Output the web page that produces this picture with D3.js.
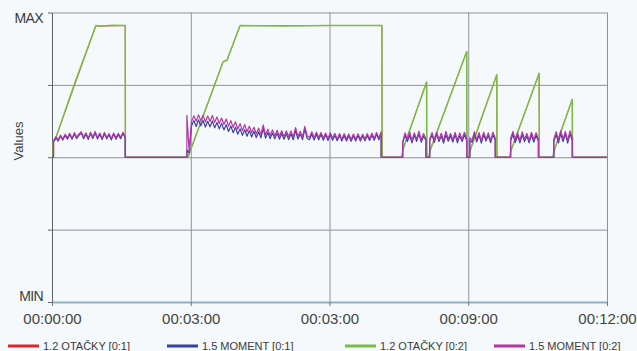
<!DOCTYPE html>
<html>
<head>
<meta charset="utf-8">
<script src="https://cdn.jsdelivr.net/npm/d3@7"></script>
<style>
  body { margin: 0; background: #f5f9fb; }
  svg { display: block; font-family: "Liberation Sans", Arial, sans-serif; }
</style>
</head>
<body>
<div id="chart-area"></div>
<script>
// axis ticks (seconds / value units)
const xTickValues = [0, 180, 360, 540, 720];
const xTickLabels = ['00:00:00', '00:03:00', '00:03:00', '00:09:00', '00:12:00'];
const yTickValues = [-100, -50, 0, 50, 100];
const yTickLabels = ['MIN', '', '', '', 'MAX'];

const seriesNames = ['1.2 OTAČKY [0:1]', '1.5 MOMENT [0:1]', '1.2 OTAČKY [0:2]', '1.5 MOMENT [0:2]'];
const seriesColors = ['#e3252b', '#3b3f9f', '#7cbc45', '#b535a5'];

// OTAČKY - speed ramps [t, value]
const otacky1 = [[0, 0], [1.3, 0], [1.5, 11], [4, 12], [57, 91], [60, 90.5], [95, 91], [95.2, 0],
    [176, 0], [177, 1], [222, 66], [227, 67], [244, 91], [428, 91], [428.2, 0],
    [454, 0], [455, 5], [486, 52], [486.2, 0], [489, 0], [490, 4], [538, 73], [538.2, 0],
    [541, 0], [542, 4], [577, 57], [577.2, 0], [594, 0], [595, 4], [632, 58], [632.2, 0],
    [650, 0], [651, 4], [675, 40], [675.2, 0], [720, 0]];
const otacky2 = [[0, 0], [1.3, 0], [1.5, 11], [4, 12], [30, 52], [57, 91], [62, 90.6], [80, 91.2], [95, 91], [95.2, 0],
    [176, 0], [177, 1], [222, 66], [227, 67], [244, 91], [300, 90.6], [360, 91.1], [428, 91], [428.2, 0],
    [454, 0], [455, 5], [486, 52], [486.2, 0], [489, 0], [490, 4], [538, 73], [538.2, 0],
    [541, 0], [542, 4], [577, 57], [577.2, 0], [594, 0], [595, 4], [632, 58], [632.2, 0],
    [650, 0], [651, 4], [675, 40], [675.2, 0], [720, 0]];

// MOMENT - sampled every 3 s inside each run
const momentStep = 3;
const momentStarts = [2, 175, 455, 490, 542, 595, 651];

const moment1 = [
    [10.8, 13.5, 11.2, 14.6, 11.9, 15.0, 12.5, 15.8, 12.4, 16.1, 12.9, 15.2, 16.7, 12.8, 15.9, 12.3,
     16.4, 12.9, 16.8, 12.6, 15.8, 12.2, 16.2, 12.7, 15.5, 12.0, 15.9, 12.5, 15.6, 12.8, 16.3, 13.6],
    [5, 3, 21.6, 25.3, 21.2, 25.8, 21.7, 25.4, 20.9, 24.8, 21.0, 25.1, 20.3, 24.0, 19.6, 23.4, 18.9,
     22.5, 17.8, 21.6, 17.0, 20.7, 15.9, 19.6, 15.1, 19.0, 14.5, 18.4, 14.0, 17.9, 13.6, 17.5, 13.4,
     19.9, 13.2, 17.1, 12.9, 16.8, 12.7, 16.6, 12.5, 16.4, 12.4, 16.3, 12.3, 16.2, 12.1, 18.6, 12.6,
     16.0, 12.2, 19.4, 13.0, 12.1, 16.1, 11.9, 15.8, 12.0, 15.7, 11.8, 15.5, 11.6, 15.6, 11.8, 15.2,
     11.4, 15.1, 11.2, 15.0, 11.3, 14.8, 11.1, 14.8, 11.3, 15.0, 11.2, 14.7, 11.4, 15.1, 11.6, 15.4,
     11.8, 15.9, 12.1, 16.3],
    [10.1, 15.2, 10.8, 15.0, 9.9, 15.3, 11.0, 16.1, 10.4, 14.7, 11.5],
    [11.4, 15.3, 10.3, 15.8, 10.9, 14.6, 9.8, 15.5, 11.1, 14.9, 10.5, 15.6, 10.0, 14.8, 10.9, 15.4, 11.6],
    [11.7, 10.4, 15.8, 10.6, 15.4, 9.8, 15.7, 11.2, 15.0, 10.1, 15.5, 12.0],
    [11.4, 15.9, 10.2, 15.2, 9.9, 15.7, 10.8, 14.6, 10.0, 15.5, 10.5, 15.0, 11.3],
    [10.7, 15.8, 9.9, 16.4, 10.9, 16.1, 9.8, 16.2, 11.5]
];

const moment2 = [
    [11.5, 14.2, 12.0, 15.3, 12.6, 15.9, 13.4, 16.6, 13.2, 17.0, 13.9, 16.1, 17.6, 13.8, 16.9, 13.1,
     17.3, 13.9, 17.8, 13.5, 16.7, 13.2, 17.1, 13.6, 16.4, 12.9, 16.8, 13.4, 16.5, 13.7, 17.2, 14.6],
    [29, 4, 24.6, 28.6, 24.9, 29.3, 25.3, 29.1, 24.4, 28.5, 24.7, 28.9, 24.1, 27.8, 23.3, 27.1, 22.6,
     26.4, 21.5, 25.3, 20.6, 24.5, 19.5, 23.2, 18.4, 22.5, 17.6, 21.4, 16.9, 20.7, 16.2, 20.1, 15.7,
     22.4, 15.5, 19.4, 15.1, 18.9, 14.7, 18.6, 14.5, 18.3, 14.2, 18.2, 14.3, 18.1, 14.0, 20.5, 14.4,
     17.9, 14.1, 21.3, 14.9, 13.7, 17.6, 13.5, 17.3, 13.6, 17.1, 13.3, 16.8, 13.0, 16.9, 13.2, 16.5,
     12.7, 16.4, 12.5, 16.3, 12.6, 16.1, 12.3, 16.0, 12.5, 16.2, 12.4, 15.9, 12.6, 16.3, 12.8, 16.6,
     12.9, 17.1, 13.3, 17.5],
    [11.0, 16.9, 12.2, 17.5, 11.6, 16.8, 12.4, 18.0, 11.8, 16.4, 12.9],
    [12.6, 17.0, 11.7, 17.4, 12.3, 16.6, 11.5, 17.8, 12.6, 16.5, 11.9, 17.2, 11.6, 16.8, 12.4, 17.3, 13.1],
    [13.4, 11.8, 17.6, 12.0, 17.1, 11.5, 17.4, 12.5, 16.8, 11.7, 17.3, 13.5],
    [13.1, 17.8, 11.9, 17.0, 11.6, 17.5, 12.4, 16.5, 11.8, 17.3, 12.2, 16.9, 13.0],
    [12.5, 17.7, 11.8, 18.4, 12.7, 17.9, 11.6, 18.2, 13.3]
];

// runs -> continuous line, zero between runs
function momentPoints(runs) {
    const pts = [[0, 0]];
    runs.forEach((vals, i) => {
        const t0 = momentStarts[i];
        pts.push([t0, 0]);
        vals.forEach((v, j) => pts.push([t0 + j * momentStep, v]));
        pts.push([t0 + (vals.length - 1) * momentStep, 0]);
    });
    pts.push([720, 0]);
    return pts;
}

// margins
const margin = { left: 52, right: 30, top: 12.5, bottom: 49 };
const W = 637, H = 351;
const width = W - margin.left - margin.right;
const height = H - margin.top - margin.bottom;

const svg = d3.select('#chart-area')
    .append('svg')
        .attr('width', W)
        .attr('height', H);

svg.append('rect').attr('width', W).attr('height', H).attr('fill', '#f5f9fb');

const g = svg.append('g')
    .attr('transform', `translate(${margin.left}, ${margin.top})`);

const x = d3.scaleLinear().domain([0, 720]).range([0, width]);
const y = d3.scaleLinear().domain([-100, 100]).range([height, 0]);

// grid
g.append('g')
    .attr('class', 'y grid')
    .call(d3.axisLeft(y).tickValues(yTickValues).tickSizeInner(-width).tickSizeOuter(0).tickFormat(''))
    .call(a => a.select('.domain').remove())
    .call(a => a.selectAll('line').attr('stroke', '#8b9399').attr('stroke-width', 1));

g.append('g')
    .attr('class', 'y ticks')
    .call(d3.axisLeft(y).tickValues(yTickValues).tickSizeInner(4).tickSizeOuter(0).tickFormat(''))
    .call(a => a.select('.domain').attr('stroke', '#5d6468'))
    .call(a => a.selectAll('line').attr('stroke', '#5d6468'));

g.append('g')
    .attr('class', 'x grid')
    .call(d3.axisTop(x).tickValues(xTickValues.slice(1)).tickSizeInner(-height).tickSizeOuter(0).tickFormat(''))
    .call(a => a.select('.domain').remove())
    .call(a => a.selectAll('line').attr('stroke', '#8b9399').attr('stroke-width', 1));

const xAxis = g.append('g')
    .attr('class', 'x axis')
    .attr('transform', `translate(0, ${height})`)
    .call(d3.axisBottom(x).tickValues(xTickValues).tickSizeInner(4).tickSizeOuter(0)
        .tickFormat((d, i) => xTickLabels[i]));
xAxis.select('.domain').attr('stroke', '#8fb1bf').attr('stroke-width', 2);
xAxis.selectAll('line').attr('stroke', '#6f7a80');
xAxis.selectAll('text')
    .attr('y', 11)
    .attr('font-size', '15px')
    .attr('fill', '#444');

// MAX / MIN
yTickValues.forEach((v, i) => {
    if (!yTickLabels[i]) return;
    g.append('text')
        .attr('x', -9)
        .attr('y', v > 0 ? y(v) + 10.5 : y(v) - 1.5)
        .attr('text-anchor', 'end')
        .attr('font-size', '14px')
        .attr('letter-spacing', '-0.6px')
        .attr('fill', '#3c3c3c')
        .text(yTickLabels[i]);
});

// y label
svg.append('text')
    .attr('transform', `translate(23, 141) rotate(-90)`)
    .attr('text-anchor', 'middle')
    .attr('font-size', '13px')
    .attr('fill', '#444')
    .text('Values');

// series
const line = d3.line().x(d => x(d[0])).y(d => y(d[1]));
const series = [otacky1, momentPoints(moment1), otacky2, momentPoints(moment2)];
const strokeW = [0.8, 1.2, 1.5, 1.2];
const drawOrder = [0, 2, 1, 3];
drawOrder.forEach(i => {
    g.append('path')
        .datum(series[i])
        .attr('fill', 'none')
        .attr('stroke', seriesColors[i])
        .attr('stroke-width', strokeW[i])
        .attr('stroke-linejoin', 'round')
        .attr('d', line);
});

// legend
const legendX = [8, 167, 345, 494];
const legend = svg.append('g').attr('class', 'legend');
seriesNames.forEach((name, i) => {
    const lg = legend.append('g').attr('transform', `translate(${legendX[i]}, 346)`);
    lg.append('line')
        .attr('x1', 0).attr('x2', 31)
        .attr('stroke', seriesColors[i])
        .attr('stroke-width', 3);
    lg.append('text')
        .attr('x', 35)
        .attr('y', 4)
        .attr('font-size', '11px')
        .attr('fill', '#3c3c3c')
        .text(name);
});
</script>
</body>
</html>
